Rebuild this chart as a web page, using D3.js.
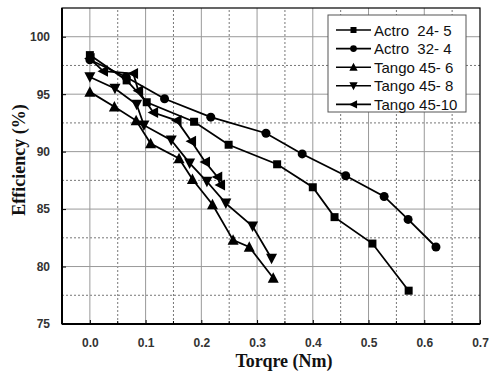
<!DOCTYPE html>
<html>
<head>
<meta charset="utf-8">
<script src="https://cdn.jsdelivr.net/npm/d3@7"></script>
<style>
  body { margin: 0; background: #fff; }
  .tick-label { font-family: "Liberation Sans", Arial, sans-serif; font-size: 12px; font-weight: bold; fill: #333; }
  .axis-title { font-family: "Liberation Serif", "Times New Roman", serif; font-size: 18px; font-weight: bold; fill: #111; }
  .legend-text { font-family: "Liberation Sans", Arial, sans-serif; font-size: 15px; fill: #111; }
</style>
</head>
<body>
<div id="chart"></div>
<script>
const seriesNames = ["Actro  24- 5", "Actro  32- 4", "Tango 45- 6", "Tango 45- 8", "Tango 45-10"];
const markers = ["square", "circle", "up", "down", "left"];

const actro245X = [0, 0.066, 0.102, 0.187, 0.249, 0.336, 0.4, 0.439, 0.507, 0.572];
const actro245Y = [98.4, 96.2, 94.3, 92.6, 90.6, 88.9, 86.9, 84.3, 82.0, 77.9];

const actro324X = [0, 0.065, 0.134, 0.217, 0.316, 0.381, 0.459, 0.528, 0.571, 0.621];
const actro324Y = [98.0, 96.5, 94.6, 93.0, 91.6, 89.8, 87.9, 86.1, 84.1, 81.7];

const tango456X = [0, 0.044, 0.083, 0.109, 0.16, 0.184, 0.22, 0.257, 0.286, 0.329];
const tango456Y = [95.2, 93.9, 92.7, 90.7, 89.4, 87.6, 85.4, 82.3, 81.7, 79.0];

const tango458X = [0, 0.045, 0.084, 0.097, 0.146, 0.179, 0.21, 0.244, 0.292, 0.326];
const tango458Y = [96.5, 95.5, 94.1, 92.3, 91.0, 89.0, 87.4, 85.5, 83.5, 80.7];

const tango4510X = [0, 0.024, 0.078, 0.087, 0.114, 0.156, 0.182, 0.207, 0.229, 0.234];
const tango4510Y = [98.1, 97.0, 96.8, 95.3, 93.4, 92.7, 90.9, 89.1, 87.8, 87.1];

const xTicks = [0.0, 0.1, 0.2, 0.3, 0.4, 0.5, 0.6, 0.7];
const yTicks = [75, 80, 85, 90, 95, 100];

const seriesX = [actro245X, actro324X, tango456X, tango458X, tango4510X];
const seriesY = [actro245Y, actro324Y, tango456Y, tango458Y, tango4510Y];

const width = 490, height = 375;
const margin = { left: 62, right: 10, top: 8, bottom: 51 };

const svg = d3.select("#chart").append("svg").attr("width", width).attr("height", height);

const x = d3.scaleLinear().domain([-0.05, 0.7]).range([margin.left, width - margin.right]);
const y = d3.scaleLinear().domain([75, 102.5]).range([height - margin.bottom, margin.top]);

// grid: minor dotted, major solid
const minorX = d3.range(-0.05, 0.7, 0.1).map((v) => +v.toFixed(2)).filter((v) => v > -0.05);
const minorY = d3.range(77.5, 102.5, 5);

svg.append("g").selectAll("line").data(minorX).join("line")
  .attr("x1", (d) => x(d)).attr("x2", (d) => x(d))
  .attr("y1", y(75)).attr("y2", y(102.5))
  .attr("stroke", "#777").attr("stroke-dasharray", "2,2");
svg.append("g").selectAll("line").data(minorY).join("line")
  .attr("y1", (d) => y(d)).attr("y2", (d) => y(d))
  .attr("x1", x(-0.05)).attr("x2", x(0.7))
  .attr("stroke", "#777").attr("stroke-dasharray", "2,2");
svg.append("g").selectAll("line").data(xTicks.slice(0, -1)).join("line")
  .attr("x1", (d) => x(d)).attr("x2", (d) => x(d))
  .attr("y1", y(75)).attr("y2", y(102.5))
  .attr("stroke", "#999");
svg.append("g").selectAll("line").data(yTicks.slice(1)).join("line")
  .attr("y1", (d) => y(d)).attr("y2", (d) => y(d))
  .attr("x1", x(-0.05)).attr("x2", x(0.7))
  .attr("stroke", "#999");

// axes with inward ticks
const xAxis = svg.append("g").attr("transform", `translate(0,${y(75)})`)
  .call(d3.axisBottom(x).tickValues(xTicks).tickSize(-4).tickPadding(14).tickFormat(d3.format(".1f")));
const yAxis = svg.append("g").attr("transform", `translate(${x(-0.05)},0)`)
  .call(d3.axisLeft(y).tickValues(yTicks).tickSize(-4).tickPadding(12).tickFormat(d3.format("d")));
[xAxis, yAxis].forEach((a) => {
  a.select(".domain").remove();
  a.selectAll("text").attr("class", "tick-label").attr("fill", null);
  a.selectAll("line").attr("stroke", "#000");
});
svg.append("g").selectAll("line").data(minorX).join("line")
  .attr("x1", (d) => x(d)).attr("x2", (d) => x(d))
  .attr("y1", y(75)).attr("y2", y(75) - 3).attr("stroke", "#000");

// frame
svg.append("rect")
  .attr("x", x(-0.05)).attr("y", y(102.5))
  .attr("width", x(0.7) - x(-0.05)).attr("height", y(75) - y(102.5))
  .attr("fill", "none").attr("stroke", "#000").attr("stroke-width", 1.2);
svg.append("line").attr("x1", x(-0.05)).attr("x2", x(0.7)).attr("y1", y(75)).attr("y2", y(75))
  .attr("stroke", "#000").attr("stroke-width", 2);
svg.append("line").attr("x1", x(-0.05)).attr("x2", x(-0.05)).attr("y1", y(75)).attr("y2", y(102.5))
  .attr("stroke", "#000").attr("stroke-width", 2);

function markerPath(type, s) {
  if (type === "square") return d3.symbol(d3.symbolSquare, s * s)();
  if (type === "circle") return d3.symbol(d3.symbolCircle, 3.14 * (s / 2) * (s / 2))();
  const h = s * 0.95, w = s * 1.1;
  if (type === "up") return `M0,${-h / 2 - 1}L${w / 2},${h / 2}L${-w / 2},${h / 2}Z`;
  if (type === "down") return `M0,${h / 2 + 1}L${w / 2},${-h / 2}L${-w / 2},${-h / 2}Z`;
  return `M${-h / 2 - 1},0L${h / 2},${-w / 2}L${h / 2},${w / 2}Z`;
}
const markerSize = { square: 8, circle: 9, up: 10, down: 10, left: 10 };

const line = d3.line().x((d) => x(d[0])).y((d) => y(d[1]));

seriesNames.forEach((name, i) => {
  const pts = seriesX[i].map((v, j) => [v, seriesY[i][j]]);
  const g = svg.append("g");
  g.append("path").datum(pts).attr("d", line)
    .attr("fill", "none").attr("stroke", "#000").attr("stroke-width", 1.8);
  g.selectAll("path.m").data(pts).join("path").attr("class", "m")
    .attr("transform", (d) => `translate(${x(d[0])},${y(d[1])})`)
    .attr("d", markerPath(markers[i], markerSize[markers[i]]))
    .attr("fill", "#000");
});

// legend
const lg = svg.append("g");
lg.append("rect").attr("x", 328).attr("y", 15).attr("width", 138).attr("height", 97)
  .attr("fill", "#fff").attr("stroke", "#555").attr("stroke-width", 1);
seriesNames.forEach((name, i) => {
  const yy = 30 + i * 18.6;
  lg.append("line").attr("x1", 336).attr("x2", 371).attr("y1", yy).attr("y2", yy)
    .attr("stroke", "#000").attr("stroke-width", 1.6);
  lg.append("path").attr("transform", `translate(353.5,${yy})`)
    .attr("d", markerPath(markers[i], markerSize[markers[i]] * 0.75)).attr("fill", "#000");
  lg.append("text").attr("class", "legend-text").attr("x", 374).attr("y", yy + 5.5)
    .style("white-space", "pre").attr("xml:space", "preserve").text(name);
});

// axis titles
svg.append("text").attr("class", "axis-title").attr("text-anchor", "middle")
  .attr("x", 284).attr("y", 367).text("Torqre (Nm)");
svg.append("text").attr("class", "axis-title").attr("text-anchor", "middle")
  .attr("transform", `translate(25,160) rotate(-90)`).text("Efficiency (%)");
</script>
</body>
</html>
